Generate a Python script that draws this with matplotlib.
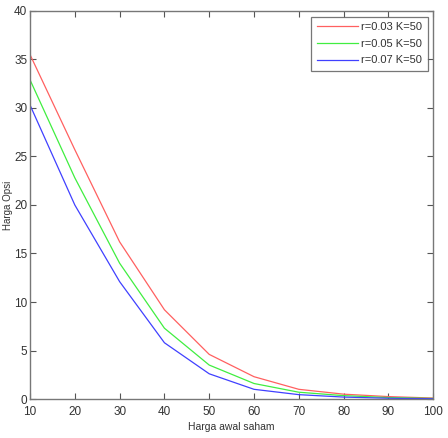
import matplotlib
matplotlib.use("Agg")
import matplotlib.pyplot as plt

plt.rcParams['font.family'] = ['Liberation Sans', 'DejaVu Sans']

harga_awal = [10, 20, 30, 40, 50, 60, 70, 80, 90, 100]
opsi_r003 = [35.5, 25.7, 16.2, 9.2, 4.6, 2.3, 1.0, 0.5, 0.25, 0.1]
opsi_r005 = [32.9, 22.8, 14.0, 7.3, 3.5, 1.6, 0.7, 0.35, 0.15, 0.06]
opsi_r007 = [30.3, 20.0, 12.1, 5.8, 2.6, 1.0, 0.45, 0.2, 0.08, 0.03]
labels = ['r=0.03 K=50', 'r=0.05 K=50', 'r=0.07 K=50']

fig = plt.figure(figsize=(4.48, 4.38), dpi=100)
ax = fig.add_axes([0.067, 0.089, 0.9, 0.886])

ax.plot(harga_awal, opsi_r003, color='#ff6060', lw=0.9, label=labels[0])
ax.plot(harga_awal, opsi_r005, color='#40ee40', lw=0.9, label=labels[1])
ax.plot(harga_awal, opsi_r007, color='#4040ff', lw=0.9, label=labels[2])

ax.set_xlim(10, 100)
ax.set_ylim(0, 40)
ax.set_xticks(range(10, 101, 10))
ax.set_yticks(range(0, 41, 5))
ax.tick_params(direction='in', top=True, right=True, length=4, width=0.8,
               labelsize=8.5, colors='#555555', labelcolor='#333333', pad=2)
ax.tick_params(axis='x', pad=5)
for s in ax.spines.values():
    s.set_color('#777777')
    s.set_linewidth(1.0)

ax.set_xlabel('Harga awal saham', fontsize=7.5, color='#333333', labelpad=3)
ax.set_ylabel('Harga Opsi', fontsize=7, color='#333333', labelpad=1)

leg = ax.legend(loc='upper right', fontsize=8, frameon=True, fancybox=False,
                handlelength=3.7, borderaxespad=0.5, labelspacing=0.6,
                handletextpad=0.3, borderpad=0.5)
leg.get_frame().set_edgecolor('#555555')
leg.get_frame().set_linewidth(0.9)
for t in leg.get_texts():
    t.set_color('#333333')

fig.savefig('out.png', dpi=100)
